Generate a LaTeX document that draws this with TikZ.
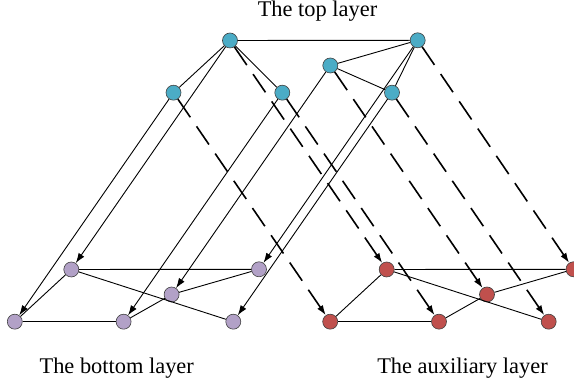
\documentclass[tikz,border=0pt]{standalone}
\usepackage{fontspec}
\setmainfont{Liberation Serif}
\usetikzlibrary{arrows.meta}
\definecolor{layercyan}{RGB}{75,172,198}
\definecolor{layerpurple}{RGB}{178,161,199}
\definecolor{layerred}{RGB}{192,80,77}
\tikzset{
  vert/.style={circle,draw=black!75,line width=0.3pt,inner sep=0pt,minimum size=7.5pt},
  link/.style={line width=0.45pt},
  down/.style={line width=0.45pt,-{Latex[length=5pt,width=3.4pt]}},
  aux/.style={line width=0.8pt,dash pattern=on 11pt off 5.5pt,-{Latex[length=5pt,width=3.4pt]}},
  caption/.style={font=\fontsize{11.2}{13}\selectfont,anchor=base,inner sep=0pt}
}

\begin{document}
\begin{tikzpicture}[x=0.5pt,y=-0.5pt]
 \useasboundingbox (0,0) rectangle (574,383);
 % top layer
 \node[vert,fill=layercyan] (t1) at (230,40.5) {};
 \node[vert,fill=layercyan] (t2) at (417.7,40.3) {};
 \node[vert,fill=layercyan] (t3) at (173.5,92.7) {};
 \node[vert,fill=layercyan] (t4) at (282.3,92.7) {};
 \node[vert,fill=layercyan] (t5) at (330.3,65.5) {};
 \node[vert,fill=layercyan] (t6) at (392,92.7) {};
 % bottom layer
 \node[vert,fill=layerpurple] (b1) at (71.3,269.5) {};
 \node[vert,fill=layerpurple] (b2) at (259,269.3) {};
 \node[vert,fill=layerpurple] (b3) at (171.6,294.5) {};
 \node[vert,fill=layerpurple] (b4) at (14.8,321.7) {};
 \node[vert,fill=layerpurple] (b5) at (123.6,321.7) {};
 \node[vert,fill=layerpurple] (b6) at (233.3,321.7) {};
 % auxiliary layer
 \node[vert,fill=layerred] (a1) at (386.7,269.5) {};
 \node[vert,fill=layerred] (a2) at (573.5,269.3) {};
 \node[vert,fill=layerred] (a3) at (487,294.5) {};
 \node[vert,fill=layerred] (a4) at (330.2,321.7) {};
 \node[vert,fill=layerred] (a5) at (439,321.7) {};
 \node[vert,fill=layerred] (a6) at (548.7,321.7) {};

 % edges inside the layers
 \foreach \u/\v in {t1/t2,t1/t3,t1/t4,t2/t5,t5/t6,t2/t6}
  \draw[link] (\u) -- (\v);
 \foreach \l in {b,a}
  \foreach \u/\v in {1/2,1/4,1/6,4/5,5/3,3/2}
   \draw[link] (\l\u) -- (\l\v);

 % top layer to the other two
 \foreach \u/\v in {1/1,2/2,3/4,4/5,5/3,6/6}{
  \draw[down] (t\u) -- (b\v);
  \draw[aux] (t\u) -- (a\v);
 }

 \node[caption] (ctop) at (317.5,17) {The top layer};
 \node[caption] (cbot) at (116.7,374) {The bottom layer};
 \node[caption] (caux) at (462.5,374) {The auxiliary layer};
\end{tikzpicture}
\end{document}
